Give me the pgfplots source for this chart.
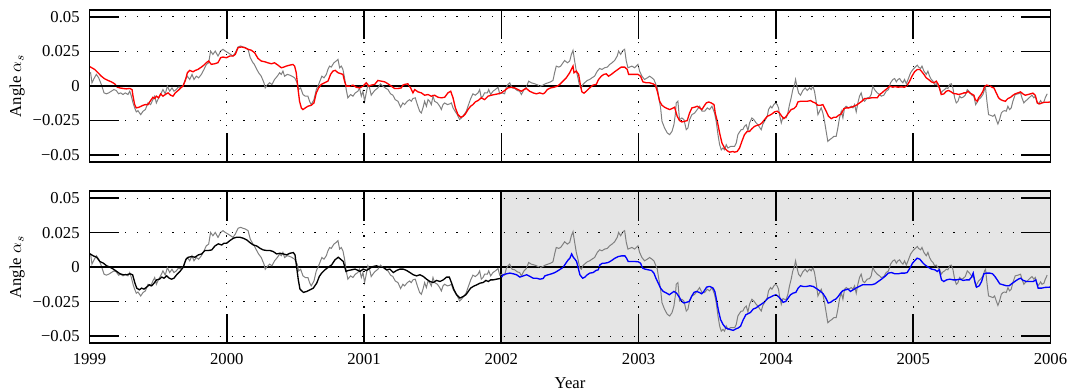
\documentclass[border=0pt]{standalone}
\usepackage{fontspec}
\setmainfont{Liberation Serif}
\usepackage{pgfplots}
\usepackage{pgfplotstable}
\pgfplotsset{compat=1.18}
\definecolor{lgray}{RGB}{128,128,128}

\pgfplotstableread{
x y
1999.000 0.0090
1999.008 0.0095
1999.018 0.0022
1999.033 0.0053
1999.050 0.0083
1999.067 0.0058
1999.086 0.0010
1999.106 -0.0051
1999.123 -0.0058
1999.140 -0.0051
1999.159 -0.0039
1999.178 -0.0027
1999.195 -0.0034
1999.212 -0.0058
1999.227 -0.0051
1999.244 -0.0063
1999.261 -0.0051
1999.280 -0.0063
1999.293 -0.0039
1999.305 -0.0075
1999.317 -0.0124
1999.329 -0.0160
1999.341 -0.0189
1999.353 -0.0180
1999.373 -0.0209
1999.390 -0.0184
1999.407 -0.0172
1999.426 -0.0124
1999.445 -0.0136
1999.462 -0.0100
1999.475 -0.0075
1999.487 -0.0124
1999.504 -0.0087
1999.518 -0.0063
1999.535 -0.0027
1999.552 -0.0058
1999.567 -0.0002
1999.584 -0.0039
1999.601 -0.0015
1999.615 -0.0039
1999.632 -0.0027
1999.645 -0.0010
1999.664 -0.0010
1999.681 -0.0002
1999.698 0.0046
1999.713 0.0070
1999.730 0.0046
1999.747 0.0083
1999.761 0.0046
1999.778 0.0070
1999.795 0.0058
1999.815 0.0083
1999.834 0.0119
1999.851 0.0155
1999.868 0.0167
1999.882 0.0252
1999.899 0.0228
1999.916 0.0252
1999.936 0.0216
1999.955 0.0252
1999.972 0.0265
1999.989 0.0252
2000.009 0.0240
2000.028 0.0228
2000.045 0.0216
2000.062 0.0240
2000.082 0.0282
2000.101 0.0289
2000.118 0.0282
2000.135 0.0277
2000.155 0.0265
2000.171 0.0204
2000.191 0.0167
2000.198 0.0160
2000.215 0.0126
2000.232 0.0095
2000.251 0.0070
2000.271 0.0022
2000.280 -0.0015
2000.295 0.0005
2000.312 0.0022
2000.329 0.0010
2000.348 0.0046
2000.368 0.0070
2000.385 0.0095
2000.397 0.0083
2000.409 0.0107
2000.421 0.0070
2000.441 0.0083
2000.458 0.0078
2000.475 0.0070
2000.494 0.0058
2000.513 0.0022
2000.523 -0.0027
2000.538 -0.0015
2000.555 -0.0063
2000.572 -0.0075
2000.591 -0.0075
2000.603 -0.0112
2000.615 -0.0136
2000.635 -0.0100
2000.652 -0.0027
2000.669 0.0010
2000.683 0.0046
2000.693 0.0070
2000.708 0.0058
2000.725 0.0083
2000.737 0.0119
2000.749 0.0143
2000.761 0.0136
2000.780 0.0167
2000.797 0.0180
2000.810 0.0192
2000.822 0.0131
2000.834 0.0143
2000.846 0.0119
2000.858 0.0058
2000.870 -0.0027
2000.882 -0.0087
2000.902 -0.0063
2000.919 -0.0075
2000.936 -0.0051
2000.955 -0.0039
2000.967 -0.0015
2000.980 -0.0075
2000.992 -0.0039
2001.004 -0.0112
2001.016 -0.0051
2001.028 0.0010
2001.040 -0.0015
2001.052 -0.0068
2001.064 -0.0051
2001.077 -0.0034
2001.101 -0.0015
2001.120 0.0015
2001.137 -0.0002
2001.154 -0.0015
2001.174 -0.0027
2001.193 -0.0058
2001.210 -0.0068
2001.227 -0.0100
2001.247 -0.0112
2001.266 -0.0155
2001.283 -0.0124
2001.295 -0.0136
2001.315 -0.0112
2001.332 -0.0100
2001.344 -0.0112
2001.356 -0.0092
2001.373 -0.0087
2001.388 -0.0136
2001.405 -0.0184
2001.417 -0.0197
2001.429 -0.0160
2001.441 -0.0112
2001.454 -0.0148
2001.466 -0.0100
2001.478 -0.0112
2001.490 -0.0136
2001.502 -0.0075
2001.514 -0.0112
2001.534 -0.0124
2001.551 -0.0148
2001.563 -0.0172
2001.575 -0.0136
2001.587 -0.0124
2001.607 -0.0136
2001.624 -0.0131
2001.636 -0.0124
2001.648 -0.0160
2001.660 -0.0180
2001.679 -0.0209
2001.696 -0.0245
2001.709 -0.0233
2001.728 -0.0209
2001.745 -0.0184
2001.757 -0.0148
2001.777 -0.0092
2001.793 -0.0058
2001.810 -0.0068
2001.830 -0.0051
2001.842 -0.0027
2001.854 -0.0087
2001.866 -0.0075
2001.878 -0.0051
2001.898 -0.0051
2001.908 -0.0027
2001.922 -0.0063
2001.939 -0.0039
2001.956 -0.0027
2001.976 -0.0010
2001.988 -0.0058
2002.005 -0.0051
2002.024 -0.0058
2002.036 -0.0010
2002.048 0.0010
2002.061 0.0022
2002.078 -0.0015
2002.097 -0.0019
2002.116 -0.0034
2002.133 -0.0039
2002.146 -0.0063
2002.165 -0.0027
2002.182 -0.0010
2002.199 0.0034
2002.218 0.0022
2002.243 0.0015
2002.267 0.0005
2002.286 -0.0002
2002.303 0.0005
2002.320 0.0015
2002.340 0.0022
2002.359 0.0029
2002.376 0.0039
2002.388 0.0095
2002.400 0.0143
2002.418 0.0136
2002.432 0.0143
2002.449 0.0167
2002.461 0.0184
2002.481 0.0167
2002.498 0.0180
2002.510 0.0228
2002.522 0.0257
2002.534 0.0180
2002.546 0.0107
2002.558 0.0058
2002.570 -0.0002
2002.582 -0.0015
2002.594 0.0010
2002.606 0.0022
2002.626 0.0039
2002.643 0.0046
2002.660 0.0058
2002.679 0.0070
2002.699 0.0107
2002.716 0.0126
2002.733 0.0119
2002.752 0.0131
2002.772 0.0136
2002.789 0.0155
2002.806 0.0167
2002.825 0.0184
2002.844 0.0216
2002.854 0.0252
2002.869 0.0228
2002.886 0.0257
2002.898 0.0265
2002.910 0.0180
2002.922 0.0131
2002.934 0.0136
2002.951 0.0143
2002.971 0.0131
2002.983 0.0143
2002.995 0.0155
2003.007 0.0107
2003.024 0.0070
2003.043 0.0046
2003.063 0.0058
2003.080 0.0070
2003.097 0.0058
2003.111 0.0046
2003.121 0.0022
2003.136 -0.0015
2003.145 -0.0075
2003.160 -0.0160
2003.170 -0.0257
2003.189 -0.0306
2003.209 -0.0342
2003.226 -0.0354
2003.243 -0.0330
2003.257 -0.0282
2003.267 -0.0209
2003.274 -0.0124
2003.286 -0.0112
2003.298 -0.0245
2003.315 -0.0233
2003.330 -0.0245
2003.347 -0.0318
2003.359 -0.0306
2003.371 -0.0245
2003.388 -0.0209
2003.408 -0.0197
2003.427 -0.0172
2003.444 -0.0148
2003.461 -0.0184
2003.481 -0.0184
2003.500 -0.0160
2003.517 -0.0172
2003.534 -0.0148
2003.553 -0.0197
2003.565 -0.0257
2003.578 -0.0354
2003.590 -0.0427
2003.602 -0.0464
2003.614 -0.0451
2003.626 -0.0464
2003.638 -0.0427
2003.650 -0.0451
2003.670 -0.0439
2003.687 -0.0439
2003.699 -0.0439
2003.711 -0.0415
2003.723 -0.0354
2003.735 -0.0335
2003.747 -0.0318
2003.759 -0.0318
2003.771 -0.0294
2003.784 -0.0282
2003.796 -0.0325
2003.808 -0.0269
2003.825 -0.0233
2003.839 -0.0245
2003.856 -0.0269
2003.869 -0.0282
2003.881 -0.0301
2003.893 -0.0318
2003.905 -0.0277
2003.917 -0.0257
2003.937 -0.0221
2003.946 -0.0172
2003.961 -0.0148
2003.971 -0.0160
2003.985 -0.0136
2003.997 -0.0124
2004.009 -0.0136
2004.019 -0.0160
2004.026 -0.0209
2004.039 -0.0269
2004.051 -0.0228
2004.063 -0.0233
2004.075 -0.0233
2004.087 -0.0197
2004.099 -0.0136
2004.111 -0.0087
2004.123 -0.0027
2004.136 0.0010
2004.143 0.0046
2004.153 -0.0002
2004.165 -0.0051
2004.179 -0.0068
2004.196 -0.0034
2004.213 -0.0015
2004.228 -0.0034
2004.245 -0.0015
2004.257 -0.0027
2004.269 -0.0002
2004.281 -0.0039
2004.293 -0.0112
2004.306 -0.0209
2004.318 -0.0184
2004.330 -0.0160
2004.342 -0.0197
2004.354 -0.0257
2004.366 -0.0330
2004.378 -0.0403
2004.391 -0.0391
2004.408 -0.0379
2004.422 -0.0366
2004.439 -0.0366
2004.451 -0.0306
2004.463 -0.0233
2004.476 -0.0184
2004.488 -0.0233
2004.500 -0.0160
2004.512 -0.0148
2004.529 -0.0160
2004.549 -0.0148
2004.561 -0.0160
2004.573 -0.0136
2004.585 -0.0189
2004.597 -0.0124
2004.609 -0.0075
2004.621 -0.0051
2004.633 -0.0100
2004.646 -0.0112
2004.665 -0.0087
2004.682 -0.0083
2004.694 -0.0063
2004.706 -0.0002
2004.718 -0.0027
2004.738 -0.0051
2004.755 -0.0063
2004.767 -0.0075
2004.786 -0.0068
2004.803 -0.0039
2004.820 -0.0027
2004.835 0.0022
2004.852 0.0046
2004.865 0.0053
2004.877 0.0029
2004.889 0.0046
2004.901 0.0053
2004.913 0.0034
2004.925 0.0022
2004.937 0.0046
2004.950 0.0015
2004.967 0.0058
2004.981 0.0095
2004.998 0.0119
2005.015 0.0136
2005.030 0.0150
2005.039 0.0136
2005.054 0.0126
2005.064 0.0143
2005.078 0.0107
2005.095 0.0083
2005.107 0.0107
2005.119 0.0070
2005.132 0.0046
2005.144 0.0034
2005.156 0.0010
2005.168 0.0015
2005.180 -0.0002
2005.192 -0.0015
2005.204 -0.0051
2005.217 -0.0034
2005.229 -0.0027
2005.241 -0.0015
2005.253 -0.0019
2005.265 0.0010
2005.277 0.0015
2005.289 -0.0015
2005.302 -0.0087
2005.314 -0.0124
2005.326 -0.0112
2005.338 -0.0075
2005.350 -0.0087
2005.362 -0.0083
2005.379 -0.0068
2005.394 -0.0027
2005.411 -0.0044
2005.428 -0.0068
2005.442 -0.0075
2005.455 -0.0136
2005.467 -0.0117
2005.476 -0.0100
2005.491 -0.0087
2005.508 -0.0063
2005.520 -0.0027
2005.527 -0.0015
2005.537 -0.0112
2005.549 -0.0209
2005.564 -0.0214
2005.581 -0.0221
2005.593 -0.0209
2005.605 -0.0245
2005.617 -0.0277
2005.629 -0.0245
2005.642 -0.0197
2005.654 -0.0184
2005.666 -0.0180
2005.678 -0.0184
2005.690 -0.0148
2005.702 -0.0172
2005.714 -0.0160
2005.726 -0.0112
2005.743 -0.0063
2005.763 -0.0058
2005.782 -0.0051
2005.792 -0.0087
2005.806 -0.0124
2005.816 -0.0112
2005.831 -0.0100
2005.848 -0.0083
2005.865 -0.0068
2005.879 -0.0087
2005.889 -0.0075
2005.904 -0.0124
2005.913 -0.0131
2005.928 -0.0107
2005.938 -0.0124
2005.952 -0.0117
2005.962 -0.0087
2005.976 -0.0058
}\graydata

\pgfplotstableread{
x y
1999.000 0.0140
1999.008 0.0136
1999.038 0.0119
1999.062 0.0095
1999.086 0.0070
1999.110 0.0051
1999.135 0.0039
1999.159 0.0029
1999.183 0.0015
1999.203 -0.0010
1999.220 -0.0015
1999.244 -0.0019
1999.268 -0.0022
1999.293 -0.0019
1999.310 -0.0027
1999.317 -0.0075
1999.329 -0.0136
1999.341 -0.0160
1999.358 -0.0156
1999.377 -0.0148
1999.390 -0.0141
1999.407 -0.0136
1999.426 -0.0136
1999.445 -0.0107
1999.462 -0.0083
1999.475 -0.0092
1999.487 -0.0075
1999.504 -0.0087
1999.518 -0.0058
1999.535 -0.0075
1999.552 -0.0063
1999.572 -0.0051
1999.591 -0.0068
1999.608 -0.0075
1999.625 -0.0051
1999.645 -0.0034
1999.664 -0.0015
1999.681 -0.0002
1999.698 0.0039
1999.713 0.0095
1999.730 0.0112
1999.754 0.0102
1999.771 0.0112
1999.790 0.0119
1999.815 0.0136
1999.834 0.0151
1999.851 0.0168
1999.868 0.0180
1999.887 0.0156
1999.912 0.0160
1999.936 0.0168
1999.955 0.0204
1999.972 0.0209
1999.997 0.0204
2000.021 0.0216
2000.045 0.0216
2000.062 0.0228
2000.082 0.0277
2000.106 0.0282
2000.130 0.0277
2000.155 0.0265
2000.179 0.0258
2000.203 0.0240
2000.227 0.0199
2000.251 0.0180
2000.275 0.0175
2000.300 0.0167
2000.324 0.0160
2000.348 0.0167
2000.373 0.0150
2000.397 0.0131
2000.416 0.0136
2000.433 0.0143
2000.458 0.0150
2000.482 0.0155
2000.494 0.0143
2000.506 0.0095
2000.518 -0.0015
2000.530 -0.0112
2000.543 -0.0160
2000.555 -0.0172
2000.572 -0.0160
2000.591 -0.0148
2000.615 -0.0141
2000.635 -0.0124
2000.652 -0.0051
2000.669 -0.0015
2000.688 0.0010
2000.712 0.0022
2000.737 0.0034
2000.756 0.0083
2000.773 0.0107
2000.790 0.0112
2000.810 0.0095
2000.834 0.0087
2000.846 0.0083
2000.858 0.0034
2000.870 -0.0002
2000.895 -0.0002
2000.919 0.0005
2000.943 -0.0010
2000.967 -0.0015
2000.992 -0.0002
2001.016 0.0022
2001.033 -0.0002
2001.052 0.0005
2001.077 0.0010
2001.101 0.0039
2001.125 0.0034
2001.150 0.0029
2001.174 0.0015
2001.198 -0.0002
2001.222 -0.0019
2001.247 -0.0019
2001.271 -0.0015
2001.283 0.0005
2001.295 0.0010
2001.319 0.0015
2001.339 -0.0015
2001.356 -0.0051
2001.369 -0.0027
2001.393 -0.0044
2001.417 -0.0051
2001.441 -0.0068
2001.466 -0.0063
2001.490 -0.0075
2001.514 -0.0068
2001.539 -0.0083
2001.563 -0.0087
2001.587 -0.0083
2001.611 -0.0051
2001.631 -0.0039
2001.648 -0.0087
2001.665 -0.0160
2001.684 -0.0209
2001.704 -0.0228
2001.721 -0.0221
2001.738 -0.0204
2001.757 -0.0172
2001.776 -0.0148
2001.793 -0.0136
2001.810 -0.0117
2001.830 -0.0107
2001.854 -0.0087
2001.878 -0.0100
2001.903 -0.0075
2001.927 -0.0068
2001.951 -0.0063
2001.976 -0.0058
2002.000 -0.0051
2002.024 -0.0034
2002.048 -0.0015
2002.073 -0.0010
2002.097 -0.0015
2002.121 -0.0027
2002.146 -0.0039
2002.165 -0.0027
2002.182 -0.0019
2002.206 -0.0039
2002.231 -0.0051
2002.255 -0.0058
2002.279 -0.0051
2002.303 -0.0058
2002.316 -0.0051
2002.335 -0.0027
2002.359 -0.0015
2002.384 -0.0010
2002.408 -0.0002
2002.425 0.0010
2002.449 0.0034
2002.473 0.0058
2002.498 0.0095
2002.522 0.0143
2002.529 0.0095
2002.546 0.0107
2002.563 0.0083
2002.577 -0.0002
2002.587 -0.0044
2002.602 -0.0053
2002.619 -0.0039
2002.643 -0.0015
2002.667 0.0005
2002.691 0.0010
2002.708 0.0046
2002.728 0.0070
2002.747 0.0083
2002.764 0.0087
2002.781 0.0070
2002.801 0.0083
2002.825 0.0102
2002.849 0.0119
2002.873 0.0136
2002.898 0.0136
2002.917 0.0119
2002.927 0.0083
2002.946 0.0083
2002.971 0.0083
2002.995 0.0083
2003.014 0.0070
2003.031 0.0029
2003.056 0.0022
2003.080 0.0022
2003.104 0.0015
2003.121 0.0005
2003.136 -0.0039
2003.153 -0.0112
2003.170 -0.0141
2003.189 -0.0155
2003.209 -0.0165
2003.226 -0.0172
2003.243 -0.0165
2003.262 -0.0155
2003.281 -0.0221
2003.298 -0.0252
2003.315 -0.0262
2003.335 -0.0257
2003.354 -0.0252
2003.371 -0.0197
2003.388 -0.0160
2003.408 -0.0155
2003.427 -0.0148
2003.444 -0.0160
2003.461 -0.0172
2003.476 -0.0148
2003.493 -0.0124
2003.510 -0.0117
2003.529 -0.0124
2003.549 -0.0136
2003.558 -0.0197
2003.573 -0.0257
2003.590 -0.0342
2003.607 -0.0415
2003.626 -0.0451
2003.646 -0.0471
2003.663 -0.0481
2003.687 -0.0476
2003.699 -0.0481
2003.718 -0.0476
2003.735 -0.0451
2003.752 -0.0403
2003.771 -0.0354
2003.791 -0.0330
2003.808 -0.0330
2003.825 -0.0311
2003.844 -0.0294
2003.864 -0.0286
2003.881 -0.0282
2003.898 -0.0269
2003.917 -0.0245
2003.937 -0.0221
2003.954 -0.0214
2003.971 -0.0204
2003.990 -0.0189
2004.009 -0.0184
2004.026 -0.0197
2004.043 -0.0221
2004.058 -0.0238
2004.075 -0.0221
2004.092 -0.0197
2004.111 -0.0172
2004.131 -0.0165
2004.148 -0.0148
2004.160 -0.0117
2004.179 -0.0112
2004.204 -0.0112
2004.228 -0.0112
2004.252 -0.0107
2004.269 -0.0117
2004.286 -0.0124
2004.306 -0.0141
2004.325 -0.0141
2004.342 -0.0136
2004.354 -0.0160
2004.366 -0.0184
2004.383 -0.0221
2004.403 -0.0238
2004.422 -0.0228
2004.439 -0.0228
2004.456 -0.0214
2004.476 -0.0204
2004.495 -0.0165
2004.512 -0.0160
2004.529 -0.0160
2004.549 -0.0155
2004.568 -0.0148
2004.585 -0.0141
2004.609 -0.0124
2004.626 -0.0112
2004.646 -0.0092
2004.670 -0.0092
2004.694 -0.0087
2004.718 -0.0087
2004.738 -0.0087
2004.755 -0.0063
2004.772 -0.0051
2004.791 -0.0034
2004.811 -0.0019
2004.828 -0.0002
2004.852 -0.0010
2004.865 -0.0005
2004.889 -0.0010
2004.913 -0.0007
2004.937 -0.0010
2004.957 0.0005
2004.974 0.0034
2004.991 0.0070
2005.010 0.0102
2005.030 0.0119
2005.047 0.0119
2005.059 0.0107
2005.078 0.0083
2005.095 0.0058
2005.112 0.0046
2005.132 0.0029
2005.151 0.0022
2005.168 0.0034
2005.180 0.0015
2005.192 -0.0019
2005.204 -0.0063
2005.224 -0.0058
2005.241 -0.0039
2005.258 -0.0034
2005.277 -0.0044
2005.297 -0.0058
2005.314 -0.0058
2005.331 -0.0063
2005.350 -0.0058
2005.370 -0.0051
2005.387 -0.0051
2005.399 -0.0039
2005.411 -0.0051
2005.423 -0.0058
2005.442 -0.0068
2005.452 -0.0100
2005.467 -0.0112
2005.476 -0.0087
2005.491 -0.0068
2005.508 -0.0039
2005.520 -0.0005
2005.535 0.0005
2005.557 0.0000
2005.574 -0.0010
2005.588 -0.0015
2005.605 -0.0051
2005.622 -0.0087
2005.637 -0.0100
2005.654 -0.0107
2005.671 -0.0112
2005.690 -0.0092
2005.710 -0.0083
2005.727 -0.0068
2005.743 -0.0058
2005.763 -0.0051
2005.782 -0.0044
2005.799 -0.0058
2005.816 -0.0068
2005.836 -0.0063
2005.855 -0.0058
2005.872 -0.0053
2005.889 -0.0068
2005.904 -0.0124
2005.921 -0.0131
2005.938 -0.0124
2005.957 -0.0119
2005.981 -0.0119
2006.000 -0.0117
}\reddata

\pgfplotstableread{
x y
1999.000 0.0098
1999.004 0.0096
1999.028 0.0082
1999.052 0.0072
1999.076 0.0041
1999.101 0.0029
1999.125 0.0010
1999.149 0.0000
1999.174 -0.0014
1999.198 -0.0031
1999.222 -0.0048
1999.246 -0.0055
1999.271 -0.0055
1999.295 -0.0048
1999.314 -0.0055
1999.331 -0.0116
1999.344 -0.0152
1999.363 -0.0164
1999.380 -0.0152
1999.397 -0.0159
1999.416 -0.0145
1999.436 -0.0128
1999.453 -0.0135
1999.470 -0.0116
1999.489 -0.0092
1999.509 -0.0087
1999.526 -0.0072
1999.543 -0.0080
1999.562 -0.0063
1999.581 -0.0080
1999.598 -0.0087
1999.615 -0.0080
1999.635 -0.0055
1999.659 -0.0031
1999.683 0.0000
1999.703 0.0058
1999.720 0.0072
1999.744 0.0077
1999.768 0.0072
1999.793 0.0089
1999.817 0.0096
1999.841 0.0121
1999.866 0.0121
1999.890 0.0125
1999.914 0.0154
1999.938 0.0169
1999.963 0.0161
1999.980 0.0174
1999.999 0.0174
2000.023 0.0193
2000.048 0.0210
2000.072 0.0217
2000.096 0.0217
2000.120 0.0210
2000.145 0.0198
2000.169 0.0178
2000.193 0.0161
2000.218 0.0154
2000.242 0.0137
2000.266 0.0125
2000.290 0.0121
2000.315 0.0121
2000.339 0.0113
2000.363 0.0096
2000.388 0.0101
2000.412 0.0096
2000.436 0.0089
2000.460 0.0101
2000.485 0.0106
2000.497 0.0089
2000.509 0.0000
2000.521 -0.0092
2000.533 -0.0159
2000.558 -0.0183
2000.582 -0.0176
2000.606 -0.0164
2000.630 -0.0152
2000.655 -0.0116
2000.674 -0.0067
2000.691 -0.0043
2000.715 -0.0019
2000.740 0.0000
2000.764 0.0017
2000.788 0.0053
2000.812 0.0072
2000.829 0.0058
2000.849 0.0041
2000.868 -0.0031
2000.885 -0.0024
2000.910 -0.0019
2000.934 -0.0014
2000.958 -0.0024
2000.970 -0.0031
2000.994 -0.0014
2001.018 -0.0024
2001.043 -0.0007
2001.067 0.0005
2001.091 0.0010
2001.116 0.0000
2001.140 0.0000
2001.164 -0.0019
2001.188 -0.0014
2001.213 -0.0039
2001.237 -0.0024
2001.261 -0.0014
2001.285 -0.0014
2001.310 -0.0024
2001.334 -0.0039
2001.358 -0.0055
2001.383 -0.0063
2001.407 -0.0055
2001.431 -0.0067
2001.455 -0.0087
2001.480 -0.0104
2001.504 -0.0111
2001.528 -0.0096
2001.553 -0.0104
2001.577 -0.0092
2001.601 -0.0072
2001.621 -0.0072
2001.638 -0.0116
2001.655 -0.0164
2001.674 -0.0200
2001.698 -0.0224
2001.723 -0.0212
2001.742 -0.0200
2001.759 -0.0176
2001.776 -0.0152
2001.795 -0.0140
2001.820 -0.0128
2001.844 -0.0116
2001.868 -0.0111
2001.888 -0.0096
2001.905 -0.0104
2001.922 -0.0092
2001.941 -0.0092
2001.965 -0.0087
2001.990 -0.0082
2002.002 -0.0080
}\blackdata

\pgfplotstableread{
x y
2002.002 -0.0072
2002.014 -0.0055
2002.038 -0.0048
2002.062 -0.0043
2002.087 -0.0048
2002.111 -0.0055
2002.135 -0.0072
2002.160 -0.0063
2002.184 -0.0055
2002.208 -0.0067
2002.232 -0.0080
2002.257 -0.0080
2002.281 -0.0087
2002.305 -0.0082
2002.317 -0.0063
2002.342 -0.0055
2002.366 -0.0048
2002.390 -0.0039
2002.415 -0.0024
2002.431 -0.0014
2002.451 0.0000
2002.470 0.0029
2002.487 0.0053
2002.499 0.0065
2002.512 0.0096
2002.524 0.0072
2002.536 0.0058
2002.548 0.0041
2002.560 -0.0007
2002.572 -0.0055
2002.592 -0.0080
2002.609 -0.0072
2002.626 -0.0055
2002.645 -0.0043
2002.669 -0.0039
2002.689 -0.0024
2002.706 -0.0019
2002.718 0.0017
2002.737 0.0029
2002.754 0.0029
2002.779 0.0034
2002.803 0.0048
2002.827 0.0065
2002.852 0.0077
2002.876 0.0082
2002.900 0.0082
2002.912 0.0065
2002.924 0.0041
2002.949 0.0041
2002.973 0.0041
2002.997 0.0039
2003.014 0.0029
2003.029 -0.0007
2003.046 -0.0014
2003.070 -0.0019
2003.094 -0.0024
2003.111 -0.0043
2003.126 -0.0080
2003.143 -0.0116
2003.160 -0.0152
2003.179 -0.0176
2003.204 -0.0188
2003.223 -0.0200
2003.240 -0.0188
2003.257 -0.0176
2003.276 -0.0188
2003.296 -0.0217
2003.313 -0.0248
2003.330 -0.0260
2003.349 -0.0255
2003.369 -0.0248
2003.386 -0.0212
2003.403 -0.0183
2003.422 -0.0176
2003.441 -0.0183
2003.459 -0.0193
2003.475 -0.0176
2003.495 -0.0145
2003.514 -0.0140
2003.519 -0.0140
2003.543 -0.0152
2003.555 -0.0176
2003.567 -0.0236
2003.580 -0.0308
2003.597 -0.0381
2003.616 -0.0417
2003.635 -0.0441
2003.652 -0.0448
2003.669 -0.0453
2003.689 -0.0458
2003.708 -0.0448
2003.725 -0.0441
2003.742 -0.0429
2003.762 -0.0381
2003.781 -0.0345
2003.798 -0.0337
2003.815 -0.0328
2003.834 -0.0304
2003.854 -0.0296
2003.871 -0.0284
2003.888 -0.0272
2003.907 -0.0260
2003.927 -0.0241
2003.944 -0.0224
2003.961 -0.0217
2003.980 -0.0207
2004.000 -0.0200
2004.017 -0.0212
2004.034 -0.0231
2004.053 -0.0255
2004.072 -0.0248
2004.089 -0.0224
2004.106 -0.0200
2004.126 -0.0188
2004.145 -0.0183
2004.162 -0.0152
2004.179 -0.0135
2004.199 -0.0140
2004.223 -0.0140
2004.247 -0.0135
2004.272 -0.0140
2004.291 -0.0152
2004.308 -0.0164
2004.325 -0.0176
2004.344 -0.0193
2004.364 -0.0224
2004.381 -0.0260
2004.398 -0.0255
2004.417 -0.0241
2004.437 -0.0231
2004.454 -0.0212
2004.471 -0.0188
2004.490 -0.0169
2004.509 -0.0164
2004.526 -0.0159
2004.543 -0.0176
2004.563 -0.0164
2004.582 -0.0152
2004.607 -0.0140
2004.631 -0.0128
2004.648 -0.0128
2004.672 -0.0128
2004.696 -0.0128
2004.721 -0.0121
2004.745 -0.0104
2004.769 -0.0087
2004.794 -0.0067
2004.818 -0.0043
2004.842 -0.0039
2004.866 -0.0048
2004.891 -0.0048
2004.915 -0.0043
2004.939 -0.0043
2004.956 -0.0039
2004.976 -0.0007
2004.995 0.0029
2005.012 0.0048
2005.029 0.0065
2005.048 0.0058
2005.068 0.0034
2005.085 0.0017
2005.109 0.0000
2005.133 -0.0014
2005.158 -0.0019
2005.175 -0.0031
2005.189 -0.0019
2005.206 -0.0092
2005.223 -0.0104
2005.243 -0.0092
2005.267 -0.0087
2005.291 -0.0092
2005.316 -0.0092
2005.340 -0.0087
2005.364 -0.0096
2005.388 -0.0092
2005.408 -0.0092
2005.425 -0.0072
2005.437 -0.0043
2005.449 -0.0104
2005.461 -0.0145
2005.481 -0.0135
2005.498 -0.0104
2005.515 -0.0048
2005.534 -0.0043
2005.558 -0.0043
2005.578 -0.0048
2005.595 -0.0067
2005.612 -0.0092
2005.631 -0.0121
2005.655 -0.0128
2005.680 -0.0135
2005.699 -0.0135
2005.716 -0.0121
2005.740 -0.0104
2005.765 -0.0087
2005.782 -0.0080
2005.801 -0.0096
2005.825 -0.0104
2005.850 -0.0104
2005.874 -0.0104
2005.893 -0.0092
2005.910 -0.0152
2005.935 -0.0152
2005.959 -0.0147
2005.990 -0.0145
2006.000 -0.0145
}\bluedata

\pgfplotsset{
  myaxis/.style={
    scale only axis, width=576.6pt, height=91pt,
    xmin=1999, xmax=2006, ymin=-0.055, ymax=0.055,
    scaled y ticks=false, scaled x ticks=false,
    xtick={1999,2000,2001,2002,2003,2004,2005,2006},
    ytick={-0.05,-0.025,0,0.025,0.05},
    yticklabels={−0.05,−0.025,0,0.025,0.05},
    tick align=inside, major tick length=17.5pt,
    major tick style={black, line width=0.9pt},
    axis line style={line width=1.1pt},
    grid=major,
    major grid style={black, line width=0.7pt, dash pattern=on 0.7pt off 6.4pt},
    axis on top,
    ylabel={Angle $\alpha_s$},
    ylabel style={at={(axis description cs:-0.0754,0.5)}, anchor=center},
    yticklabel style={xshift=-2.4pt},
    xticklabel style={yshift=-3pt},
  }
}

\begin{document}
\begin{tikzpicture}
\path[use as bounding box] (0,0) rectangle (640.8pt,234pt);
\begin{axis}[myaxis, at={(53.7pt,137pt)}, anchor=south west, xticklabels={}]
  \addplot[black, line width=1pt] coordinates {(1999,0) (2006,0)};
  \addplot[lgray, line width=0.6pt] table {\graydata};
  \addplot[red, line width=0.8pt] table {\reddata};
\end{axis}
\begin{axis}[myaxis, at={(53.7pt,28.2pt)}, anchor=south west,
  xticklabels={1999,2000,2001,2002,2003,2004,2005,2006},
  xlabel={Year}, xlabel style={at={(axis description cs:0.5,-0.2967)}, anchor=base}]
  \addplot[fill=gray!20, draw=none] coordinates {(2002,-0.055) (2006,-0.055) (2006,0.055) (2002,0.055) (2002,-0.055)};
  \addplot[black, line width=1.2pt] coordinates {(1999,0) (2006,0)};
  \addplot[black, line width=1.2pt] coordinates {(2002,-0.055) (2002,0.055)};
  \addplot[lgray, line width=0.6pt] table {\graydata};
  \addplot[black, line width=0.8pt] table {\blackdata};
  \addplot[blue, line width=0.8pt] table {\bluedata};
\end{axis}
\end{tikzpicture}
\end{document}
